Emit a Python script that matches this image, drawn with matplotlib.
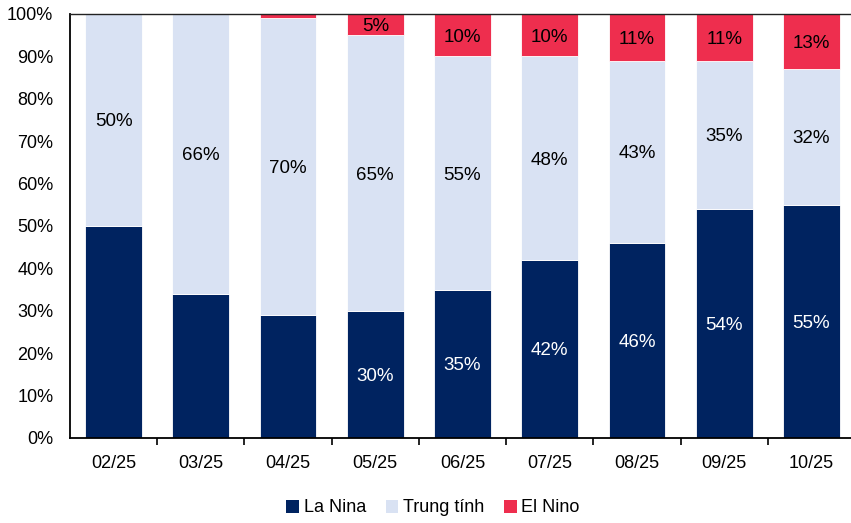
import matplotlib
matplotlib.use("Agg")
import matplotlib.pyplot as plt
from matplotlib.patches import Patch
from matplotlib.ticker import PercentFormatter, FixedLocator

plt.rcParams['font.family'] = ['Liberation Sans', 'DejaVu Sans']

months = ["02/25", "03/25", "04/25", "05/25", "06/25", "07/25", "08/25", "09/25", "10/25"]
la_nina = [50, 34, 29, 30, 35, 42, 46, 54, 55]
trung_tinh = [50, 66, 70, 65, 55, 48, 43, 35, 32]
el_nino = [0, 0, 1, 5, 10, 10, 11, 11, 13]

# which segments carry a value label
show_la_nina = [False, False, False, True, True, True, True, True, True]
show_el_nino = [False, False, False, True, True, True, True, True, True]

c_la = "#002360"
c_tt = "#D9E2F3"
c_el = "#EE2E4E"

fig = plt.figure(figsize=(8.51, 5.23), dpi=100)
ax = fig.add_axes([70 / 851, 1 - 438 / 523, 785 / 851, 424 / 523])

x = list(range(len(months)))
w = 0.65
bottom_tt = la_nina
bottom_el = [a + b for a, b in zip(la_nina, trung_tinh)]

ax.bar(x, la_nina, w, color=c_la, edgecolor="white", linewidth=0.6, label="La Nina")
ax.bar(x, trung_tinh, w, bottom=bottom_tt, color=c_tt, edgecolor="white", linewidth=0.6, label="Trung tính")
ax.bar(x, el_nino, w, bottom=bottom_el, color=c_el, edgecolor="white", linewidth=0.6, label="El Nino")

fs = 13
fs_lbl = 13.5
va = "center_baseline"
for i in x:
    if show_la_nina[i]:
        ax.text(i, la_nina[i] / 2, f"{la_nina[i]}%", ha="center", va=va, color="white", fontsize=fs_lbl)
    ax.text(i, bottom_tt[i] + trung_tinh[i] / 2, f"{trung_tinh[i]}%", ha="center", va=va, color="black", fontsize=fs_lbl)
    if show_el_nino[i]:
        ax.text(i, bottom_el[i] + el_nino[i] / 2, f"{el_nino[i]}%", ha="center", va=va, color="black", fontsize=fs_lbl)

ax.set_xlim(-0.5, len(months) - 0.5)
ax.set_ylim(0, 100)
ax.set_yticks(range(0, 101, 10))
ax.yaxis.set_major_formatter(PercentFormatter(decimals=0))
ax.set_xticks(x)
ax.set_xticklabels(months)
ax.xaxis.set_minor_locator(FixedLocator([i + 0.5 for i in x[:-1]]))

ax.tick_params(axis="x", which="major", length=0, pad=12, labelsize=fs)
ax.tick_params(axis="x", which="minor", length=5, width=1.2, direction="out", color="black")
ax.tick_params(axis="y", length=0, pad=12, labelsize=fs)

ax.spines["right"].set_visible(False)
for s in ("left", "bottom", "top"):
    ax.spines[s].set_linewidth(1.3)
    ax.spines[s].set_color("black")
ax.spines["top"].set_linewidth(1.0)
ax.spines["top"].set_color("#222222")

handles = [Patch(facecolor=c_la, label="La Nina"),
           Patch(facecolor=c_tt, label="Trung tính"),
           Patch(facecolor=c_el, label="El Nino")]
fig.legend(handles=handles, loc="center", bbox_to_anchor=(433 / 851, 1 - 508 / 523),
           ncol=3, frameon=False, fontsize=fs, handlelength=0.7, handleheight=0.7,
           handletextpad=0.25, columnspacing=1.1)

fig.savefig("out.png", dpi=100)
